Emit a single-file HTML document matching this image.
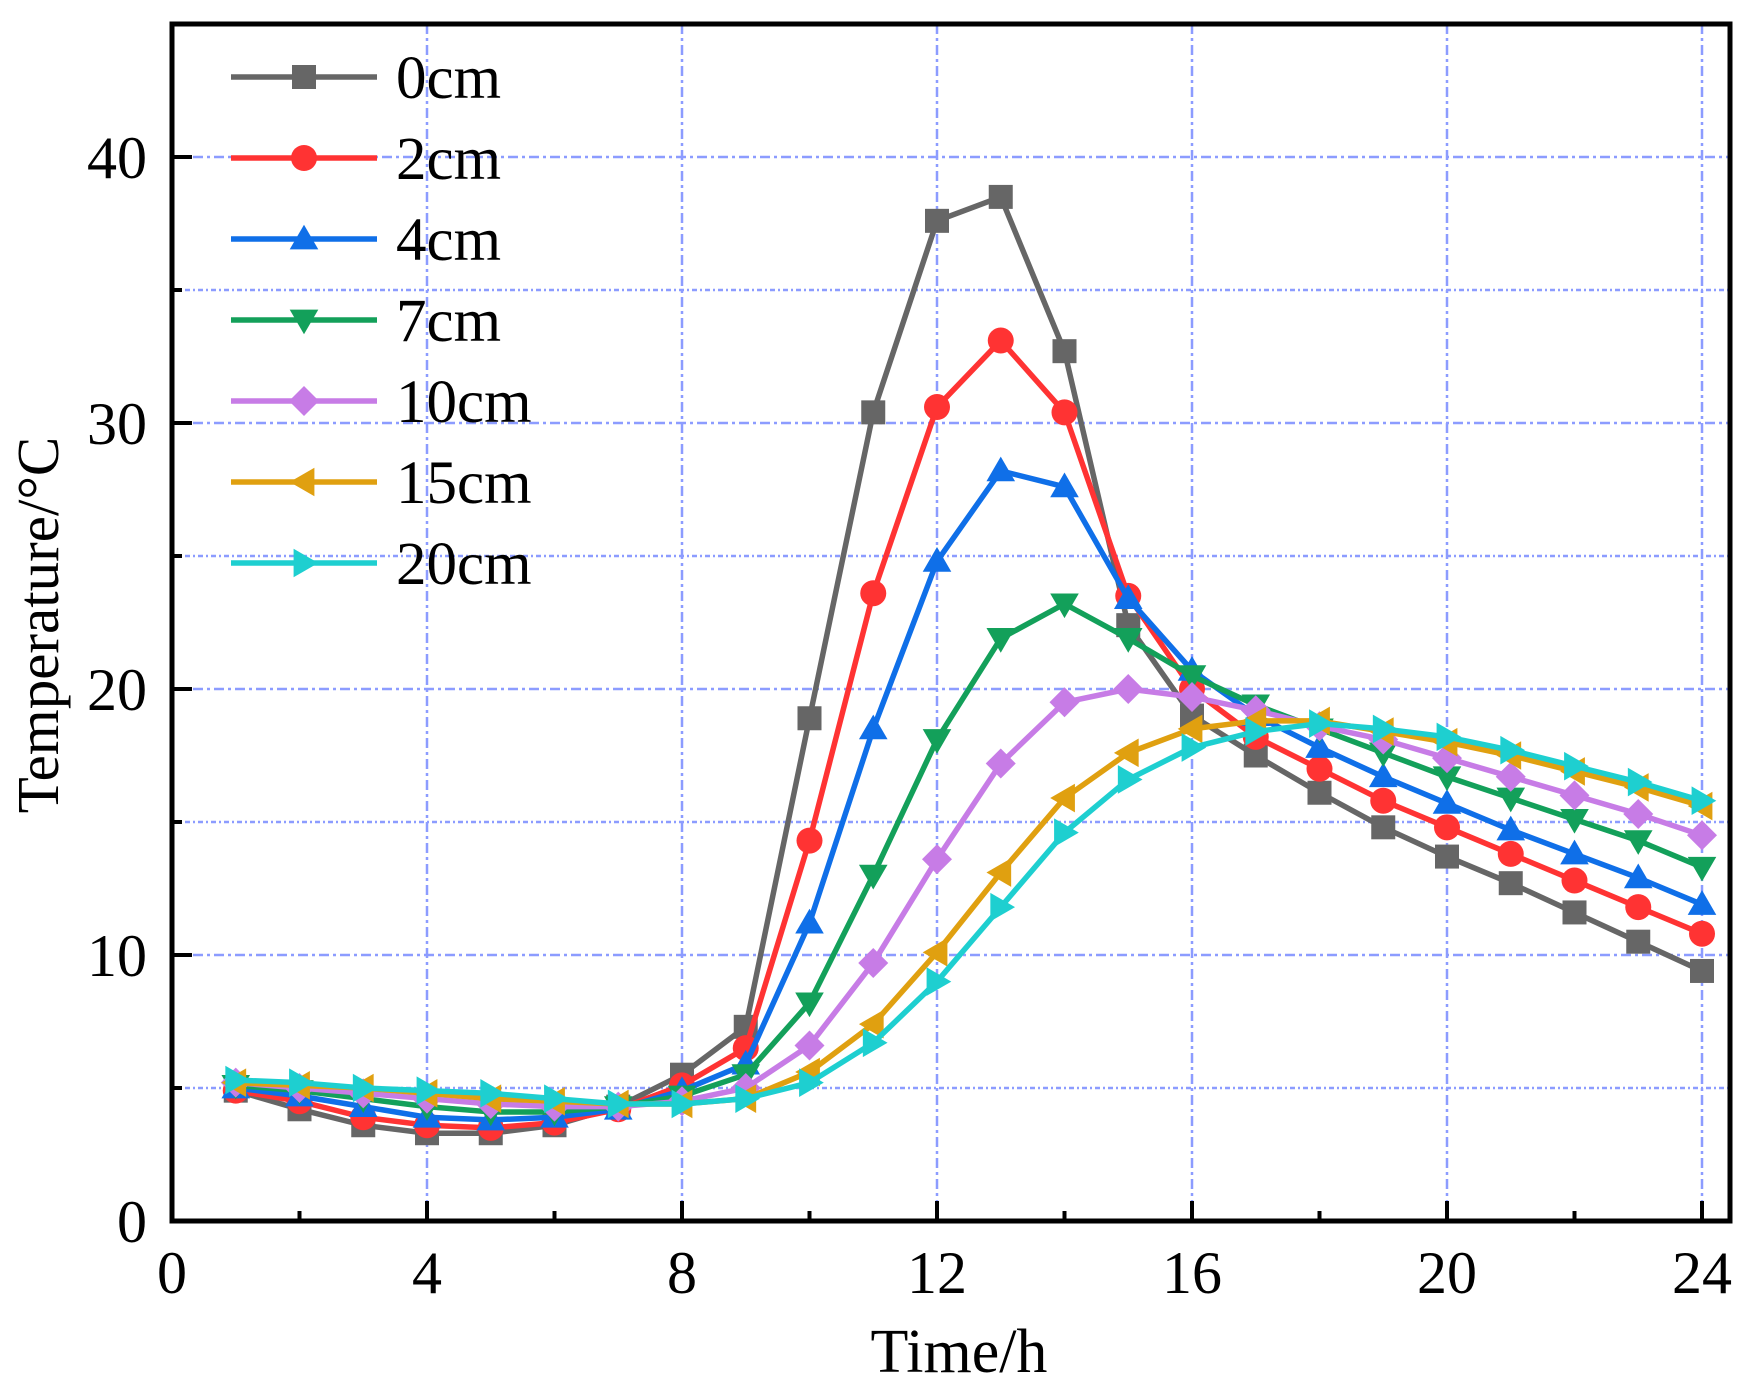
<!DOCTYPE html>
<html><head><meta charset="utf-8"><style>
html,body{margin:0;padding:0;background:#fff}
svg{display:block}
text{font-family:"Liberation Serif",serif;fill:#000}
</style></head><body>
<svg id="s" width="1756" height="1388" viewBox="0 0 1756 1388" xmlns="http://www.w3.org/2000/svg"></svg>
<script>
const X0=172,XU=63.75,Y0=1221,YU=26.6;
const px=x=>X0+x*XU, py=y=>Y0-y*YU;
let h='';
for(let x=4;x<=24;x+=4)h+=`<line x1="${px(x)}" y1="24" x2="${px(x)}" y2="${Y0}" stroke="#8c9cff" stroke-width="2.5" stroke-dasharray="10,4,3,4"/>`;
for(let y=5;y<=40;y+=5)h+=`<line x1="${X0}" y1="${py(y)}" x2="1730" y2="${py(y)}" stroke="#8c9cff" stroke-width="2.5" stroke-dasharray="${y%10?'5,3,2,3':'10,4,3,4'}"/>`;
h+=`<rect x="${X0}" y="24" width="${1730-X0}" height="${Y0-24}" fill="none" stroke="#000" stroke-width="5"/>`;
for(let x=2;x<=24;x+=2){let L=x%4?10:20;h+=`<line x1="${px(x)}" y1="${Y0}" x2="${px(x)}" y2="${Y0-L}" stroke="#000" stroke-width="4"/>`;}
for(let y=5;y<=40;y+=5){let L=y%10?10:20;h+=`<line x1="${X0}" y1="${py(y)}" x2="${X0+L}" y2="${py(y)}" stroke="#000" stroke-width="4"/>`;}
for(let x=0;x<=24;x+=4)h+=`<text x="${px(x)}" y="1293" font-size="60" text-anchor="middle">${x}</text>`;
for(let y=0;y<=40;y+=10)h+=`<text x="147" y="${py(y)+21}" font-size="60" text-anchor="end">${y}</text>`;
h+=`<text x="959" y="1372" font-size="62" text-anchor="middle">Time/h</text>`;
h+=`<text transform="translate(58,625) rotate(-90)" font-size="59" text-anchor="middle">Temperature/°C</text>`;
const S=[
['0cm','#666666','sq',[4.9,4.2,3.6,3.3,3.3,3.6,4.3,5.5,7.3,18.9,30.4,37.6,38.5,32.7,22.4,19.0,17.5,16.1,14.8,13.7,12.7,11.6,10.5,9.4]],
['2cm','#ff3333','ci',[4.9,4.5,3.9,3.6,3.5,3.7,4.2,5.1,6.5,14.3,23.6,30.6,33.1,30.4,23.5,20.0,18.2,17.0,15.8,14.8,13.8,12.8,11.8,10.8]],
['4cm','#0f6fe8','up',[5.0,4.7,4.3,3.9,3.8,3.9,4.2,4.9,5.9,11.2,18.5,24.8,28.2,27.6,23.4,20.7,19.0,17.8,16.7,15.7,14.7,13.8,12.9,11.9]],
['7cm','#13a05a','dn',[5.1,4.9,4.6,4.3,4.1,4.1,4.3,4.7,5.5,8.2,13.0,18.1,21.9,23.2,21.9,20.5,19.4,18.5,17.6,16.7,15.9,15.1,14.3,13.3]],
['10cm','#c77ce6','di',[5.2,5.0,4.8,4.6,4.4,4.3,4.3,4.5,5.0,6.6,9.7,13.6,17.2,19.5,20.0,19.7,19.2,18.6,18.1,17.4,16.7,16.0,15.3,14.5]],
['15cm','#e0a010','lt',[5.2,5.1,5.0,4.8,4.6,4.5,4.4,4.4,4.6,5.6,7.4,10.1,13.1,15.9,17.6,18.5,18.8,18.8,18.4,18.0,17.5,16.9,16.3,15.6]],
['20cm','#1ecfd0','rt',[5.3,5.2,5.0,4.9,4.8,4.6,4.4,4.4,4.6,5.2,6.7,9.0,11.8,14.6,16.6,17.8,18.4,18.7,18.5,18.2,17.7,17.1,16.5,15.8]]];
function mk(t,x,y,c){const r=13;
 if(t=='sq')return `<rect x="${x-r+1}" y="${y-r+1}" width="${2*r-2}" height="${2*r-2}" fill="${c}"/>`;
 if(t=='ci')return `<circle cx="${x}" cy="${y}" r="${r}" fill="${c}"/>`;
 if(t=='di')return `<polygon points="${x},${y-r-2} ${x+r+2},${y} ${x},${y+r+2} ${x-r-2},${y}" fill="${c}"/>`;
 let p={up:[[0,-1.1],[1.1,0.8],[-1.1,0.8]],dn:[[0,1.1],[1.1,-0.8],[-1.1,-0.8]],lt:[[-1.1,0],[0.8,-1.1],[0.8,1.1]],rt:[[1.1,0],[-0.8,-1.1],[-0.8,1.1]]}[t];
 return `<polygon points="${p.map(q=>(x+q[0]*r)+','+(y+q[1]*r)).join(' ')}" fill="${c}"/>`;}
S.forEach((s,i)=>{
 const pts=s[3].map((v,j)=>[px(j+1),py(v)]);
 h+=`<polyline points="${pts.map(p=>p.join(',')).join(' ')}" fill="none" stroke="${s[1]}" stroke-width="5.5" stroke-linejoin="round"/>`;
 pts.forEach(p=>h+=mk(s[2],p[0],p[1],s[1]));
 const ly=77+i*81;
 h+=`<line x1="231" y1="${ly}" x2="377" y2="${ly}" stroke="${s[1]}" stroke-width="5.5"/>`+mk(s[2],304,ly,s[1]);
 h+=`<text x="396" y="${ly+21}" font-size="61">${s[0]}</text>`;
});
document.getElementById('s').innerHTML=h;
</script>
</body></html>
